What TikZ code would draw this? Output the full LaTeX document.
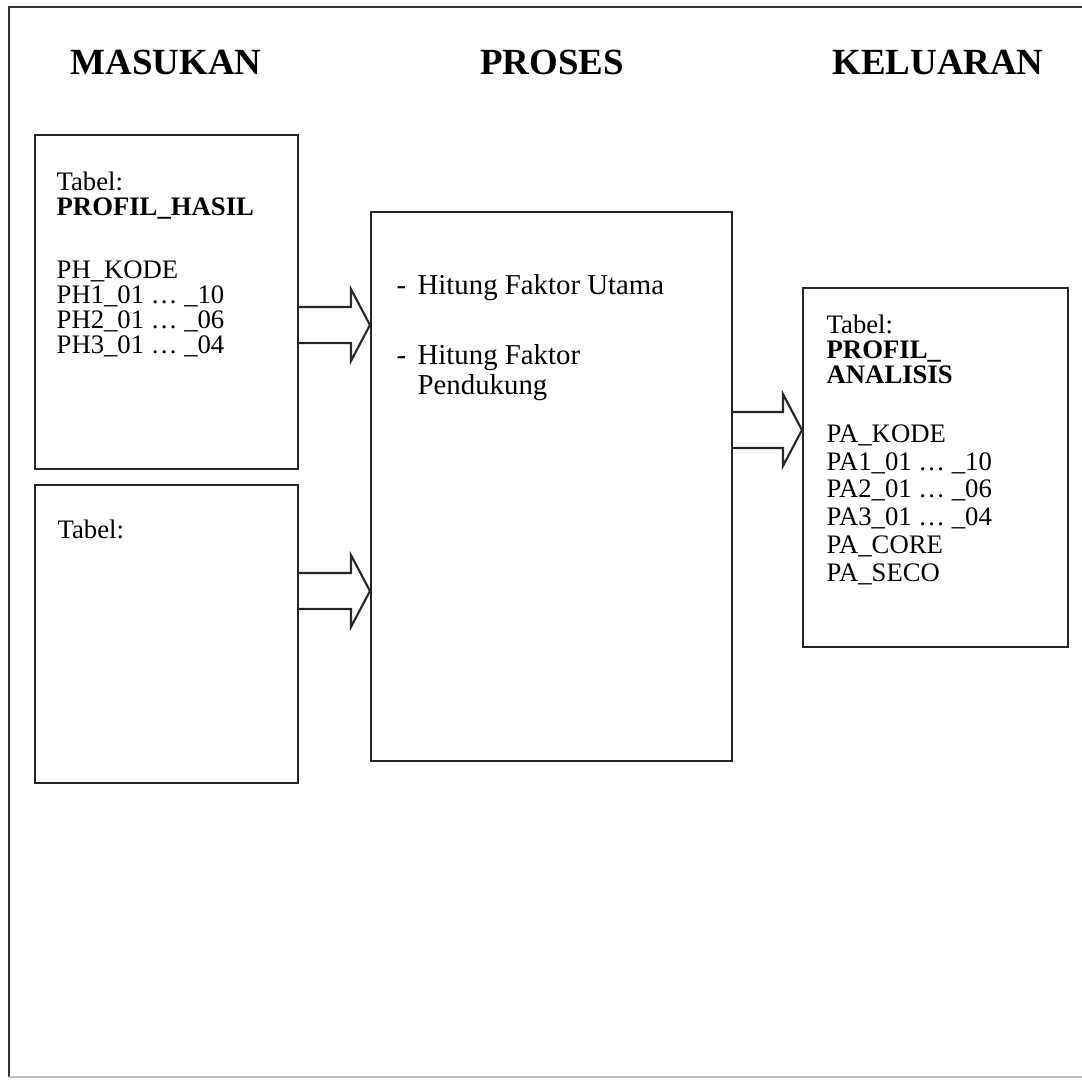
\documentclass[tikz,border=0pt]{standalone}
\usepackage{fontspec}
\setmainfont{Liberation Serif}
\usetikzlibrary{fit,calc}

% block arrow from one box to the next, centred on height #3
\newcommand{\bigarrow}[3]{%
  \draw[blk] ($(#1.east |- 0,#3)+(0,-18)$)
    -- ($(#2.west |- 0,#3)+(-19,-18)$) -- ++(0,-18)
    -- (#2.west |- 0,#3)
    -- ++(-19,36) -- ++(0,-18)
    -- ($(#1.east |- 0,#3)+(0,18)$);}

\begin{document}
\begin{tikzpicture}[
  x=0.1mm, y=-0.1mm,
  box/.style={draw=black!85, semithick, inner sep=0pt},
  head/.style={anchor=base, inner sep=0pt, font=\fontsize{10.5}{12}\selectfont\bfseries},
  txt/.style={anchor=north west, inner sep=0pt, align=left,
              font=\fontsize{7.6}{7.1}\selectfont},
  blk/.style={draw=black!85, semithick, line join=miter}
]
  \useasboundingbox (0,0) rectangle (1082,1080);

  % page frame
  \draw[black!80, semithick] (9,1077) -- (9,7) -- (1090,7);
  \draw[black!25] (9,1077) -- (1090,1077);

  % column headings
  \node[head] (hin) at (166,74) {MASUKAN};
  \node[head] (hproc) at (552,74) {PROSES};
  \node[head] (hout) at (938,74) {KELUARAN};

  % boxes
  \node[box, fit={(35,135) (298,469)}] (ph) {};
  \node[box, fit={(35,485) (298,783)}] (tb) {};
  \node[box, fit={(371,212) (732,761)}] (proc) {};
  \node[box, fit={(803,288) (1068,647)}] (pa) {};

  % box contents
  \node[txt] (phtxt) at ([shift={(22,37)}]ph.north west)
    {Tabel:\\ \textbf{PROFIL\_HASIL}\\[11pt]
     PH\_KODE\\ PH1\_01 … \_10\\ PH2\_01 … \_06\\ PH3\_01 … \_04};
  \node[txt] (tbtxt) at ([shift={(23,35)}]tb.north west) {Tabel:};
  \node[txt, font=\fontsize{8.2}{7.4}\selectfont] (proctxt)
    at ([shift={(26,63)}]proc.north west)
    {\makebox[2.1mm][l]{-}Hitung Faktor Utama\\[11.5pt]
     \makebox[2.1mm][l]{-}Hitung Faktor\\
     \hspace*{2.1mm}Pendukung};
  \node[txt] (pahead) at ([shift={(24,27)}]pa.north west)
    {Tabel:\\ \textbf{PROFIL\_}\\ \textbf{ANALISIS}};
  \node[txt, font=\fontsize{7.6}{7.9}\selectfont] (palist)
    at ([shift={(24,137)}]pa.north west)
    {PA\_KODE\\ PA1\_01 … \_10\\ PA2\_01 … \_06\\ PA3\_01 … \_04\\
     PA\_CORE\\ PA\_SECO};

  % flows
  \bigarrow{ph}{proc}{325}
  \bigarrow{tb}{proc}{591}
  \bigarrow{proc}{pa}{430}
\end{tikzpicture}
\end{document}
